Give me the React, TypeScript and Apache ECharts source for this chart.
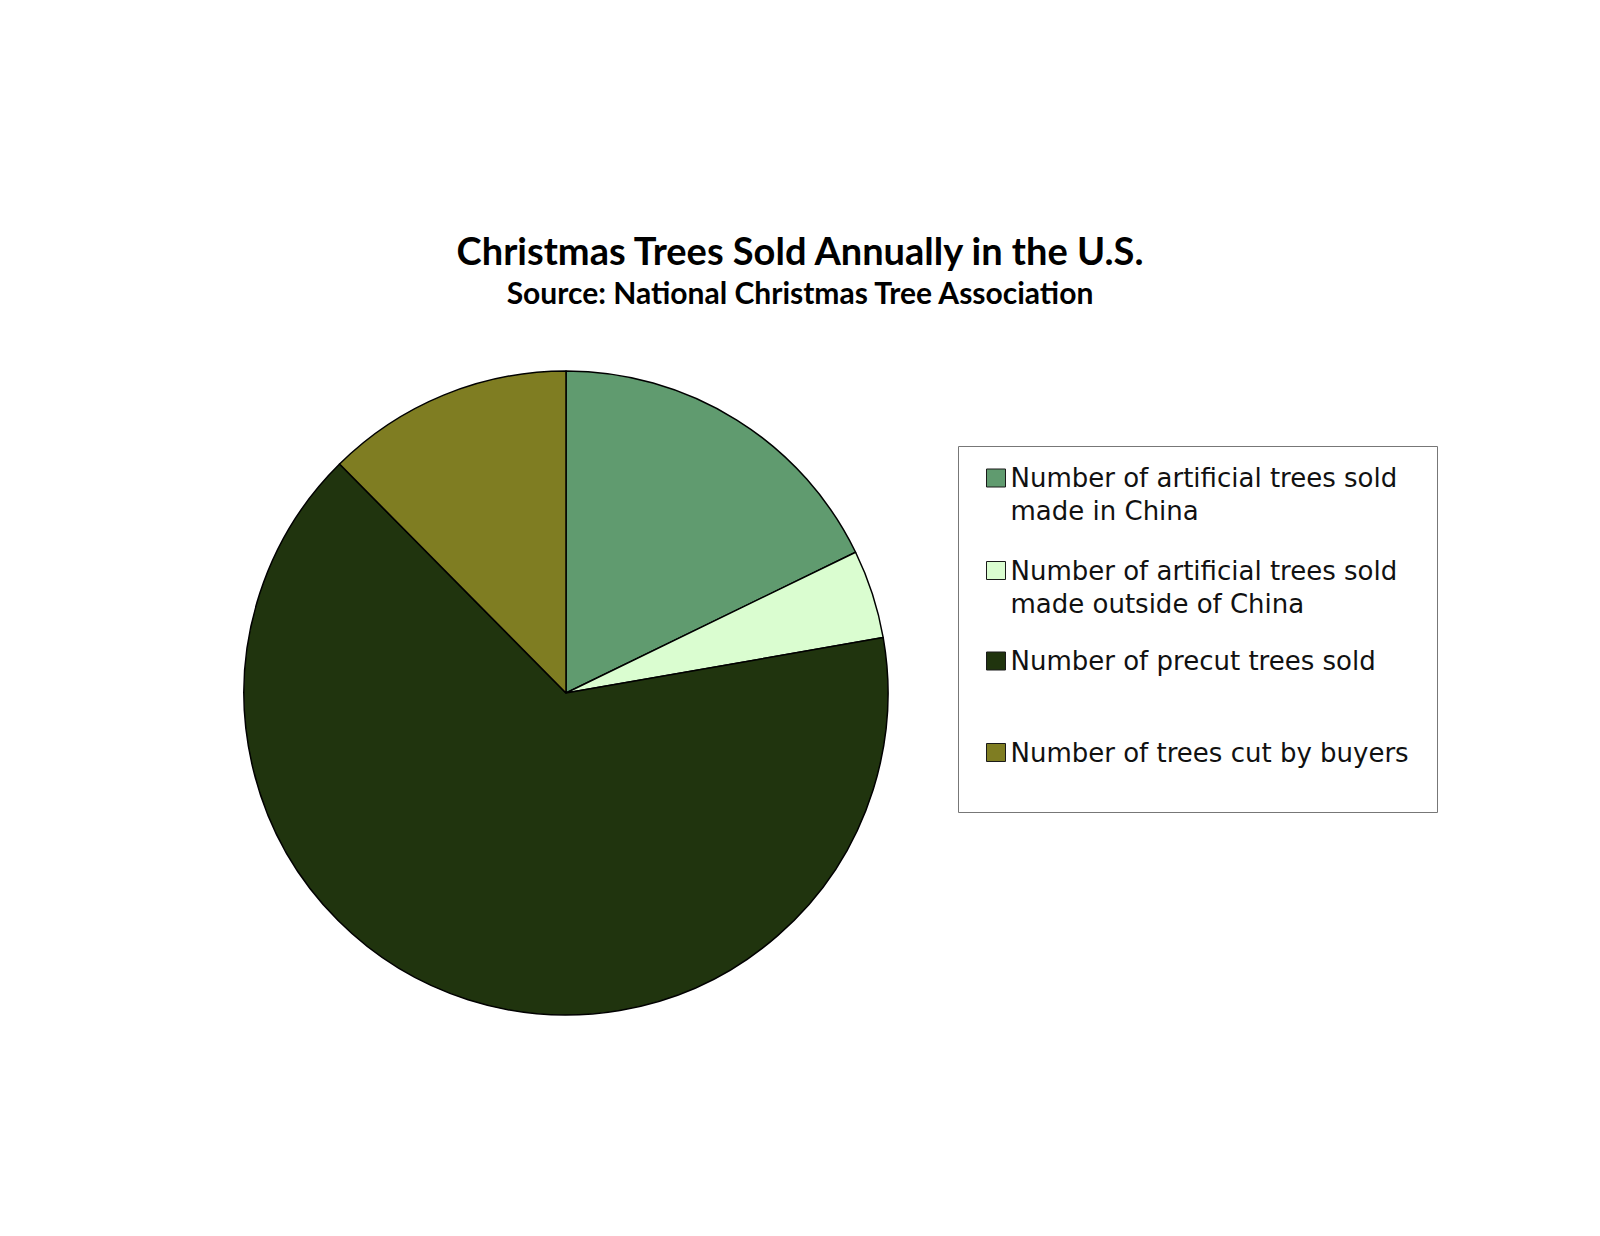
import React, { useEffect, useRef } from "react";
import * as echarts from "echarts";

const categories = [
  "Number of artificial trees sold made in China",
  "Number of artificial trees sold made outside of China",
  "Number of precut trees sold",
  "Number of trees cut by buyers",
];
const legendLabels = [
  "Number of artificial trees sold\nmade in China",
  "Number of artificial trees sold\nmade outside of China",
  "Number of precut trees sold",
  "Number of trees cut by buyers",
];
// millions of trees
const values = [7.6, 1.9, 27.9, 5.3];
const colors = ["#609B6F", "#DAFDD0", "#20340E", "#7F7D22"];

const TITLE_FONT = "Lato";
const LEGEND_FONT = "DejaVu Sans";
const LH = 33;

export default function App() {
  const ref = useRef<HTMLDivElement>(null);
  useEffect(() => {
    document.body.style.margin = "0";
    const chart = echarts.init(ref.current!, null, { renderer: "svg" });
    const iconTops = [469, 561.5, 652, 743.5];
    const legends = categories.map((name, i) => {
      const twoLine = legendLabels[i].includes("\n");
      // two-line labels get a leading blank line so the first line sits beside the icon
      const label = twoLine ? "\n" + legendLabels[i] : legendLabels[i];
      const top = twoLine ? iconTops[i] + 9 - 1.5 * LH : iconTops[i] + 9 - LH / 2;
      return {
        left: 986,
        top,
        orient: "vertical",
        padding: 0,
        selectedMode: false,
        itemWidth: 19,
        itemHeight: 18,
        icon: "rect",
        itemStyle: { borderColor: "#1a1a1a", borderWidth: 1 },
        textStyle: {
          fontFamily: LEGEND_FONT,
          fontSize: 26,
          color: "#111",
          lineHeight: LH,
        },
        formatter: () => label,
        data: [name],
      };
    });
    chart.setOption({
      animation: false,
      backgroundColor: "#ffffff",
      color: colors,
      title: [
        {
          text: "Christmas Trees Sold Annually in the U.S.",
          left: "center",
          top: 231,
          padding: 0,
          textStyle: { fontFamily: TITLE_FONT, fontWeight: "bold", fontSize: 38, color: "#000" },
        },
        {
          text: "Source: National Christmas Tree Association",
          left: "center",
          top: 277,
          padding: 0,
          textStyle: { fontFamily: TITLE_FONT, fontWeight: "bold", fontSize: 30, color: "#000" },
        },
      ],
      legend: legends,
      graphic: [
        {
          type: "rect",
          shape: { x: 958.5, y: 446.5, width: 479, height: 366 },
          style: { fill: "none", stroke: "#777", lineWidth: 1 },
          silent: true,
        },
      ],
      series: [
        {
          type: "pie",
          center: [566, 693],
          radius: 322,
          startAngle: 90,
          clockwise: true,
          label: { show: false },
          labelLine: { show: false },
          emphasis: { disabled: true },
          itemStyle: { borderColor: "#000", borderWidth: 1.5 },
          data: categories.map((name, i) => ({ name, value: values[i] })),
        },
      ],
    });
    return () => chart.dispose();
  }, []);
  return (
    <div
      ref={ref}
      style={{ position: "absolute", left: 0, top: 0, width: 1600, height: 1236 }}
    />
  );
}
